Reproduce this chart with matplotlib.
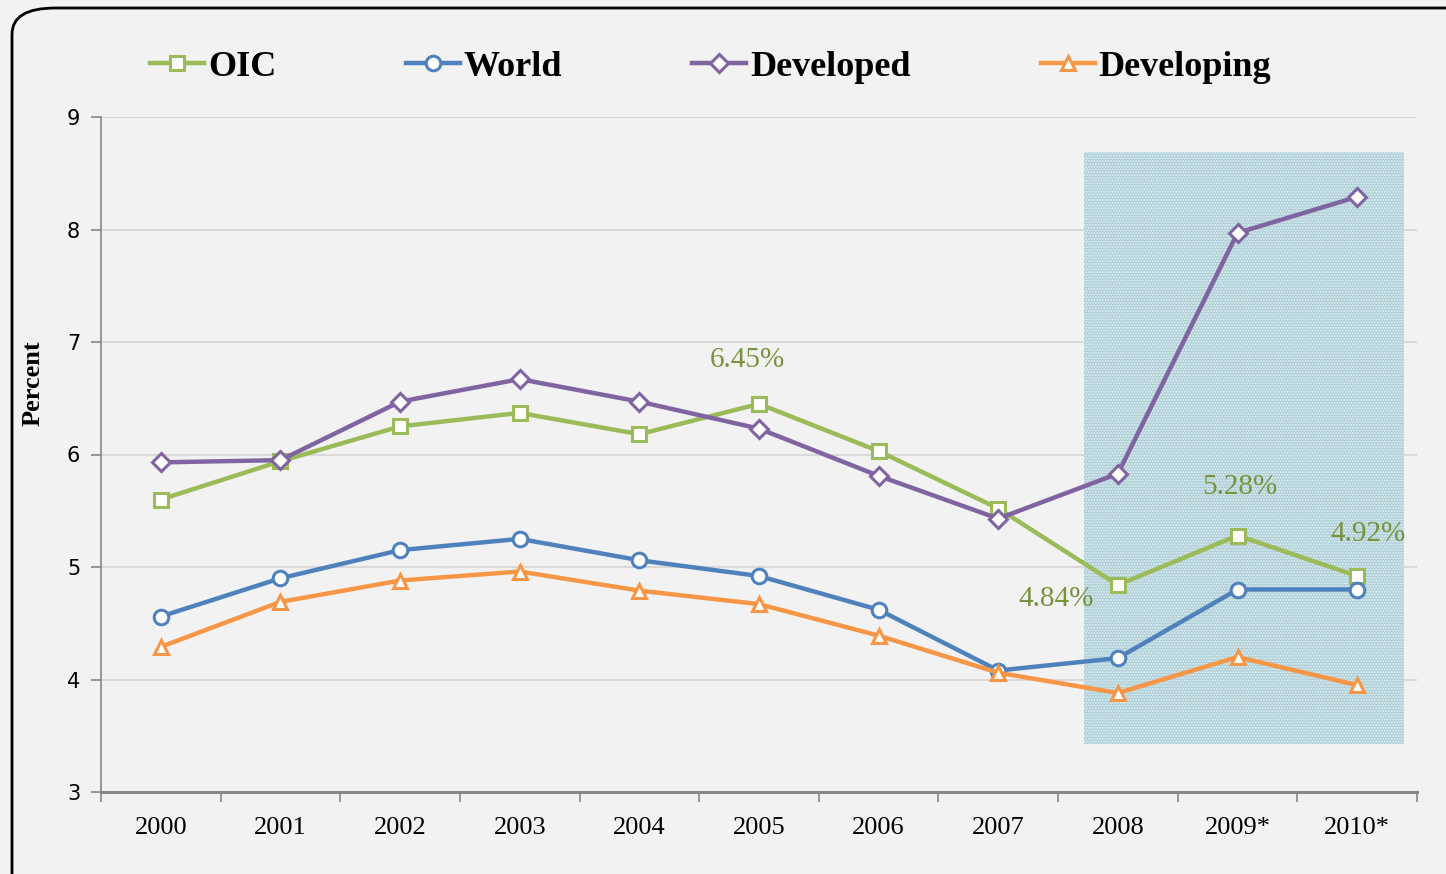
import numpy as np
import matplotlib
matplotlib.use("Agg")
import matplotlib.pyplot as plt
from matplotlib.patches import Rectangle, FancyBboxPatch

years = ["2000", "2001", "2002", "2003", "2004", "2005", "2006", "2007", "2008", "2009*", "2010*"]
oic = [5.60, 5.94, 6.25, 6.37, 6.18, 6.45, 6.03, 5.52, 4.84, 5.28, 4.92]
world = [4.56, 4.90, 5.15, 5.25, 5.06, 4.92, 4.62, 4.08, 4.19, 4.80, 4.80]
developed = [5.93, 5.95, 6.47, 6.67, 6.47, 6.23, 5.81, 5.43, 5.83, 7.97, 8.29]
developing = [4.29, 4.69, 4.88, 4.96, 4.79, 4.67, 4.39, 4.06, 3.88, 4.20, 3.95]

# labelled OIC points: (index, text)
oic_labels = [(5, "6.45%"), (8, "4.84%"), (9, "5.28%"), (10, "4.92%")]

serif = "Liberation Serif"
bg = "#f2f2f2"
plt.rcParams["hatch.linewidth"] = 0.9

fig = plt.figure(figsize=(14.46, 8.74), dpi=100, facecolor=bg)
border = FancyBboxPatch((12 / 1446, -0.05), 1.05, 1.05 - 8 / 874,
                        boxstyle="round,pad=0,rounding_size=0.03",
                        transform=fig.transFigure, facecolor=bg,
                        edgecolor="black", linewidth=2, zorder=-10)
fig.patches.append(border)

ax = fig.add_axes([101 / 1446, 1 - 792 / 874, 1316 / 1446, 675 / 874])
ax.set_facecolor("none")

x = np.arange(len(years))

# shaded forecast box (dotted texture)
ax.add_patch(Rectangle((7.72, 3.43), 2.67, 5.26, facecolor="#add0d8",
                       edgecolor="#e8f0f2", linewidth=0, hatch="......", zorder=1))

series = [
    ("OIC", oic, "#9bbb59", "s"),
    ("World", world, "#4f81bd", "o"),
    ("Developed", developed, "#8064a2", "D"),
    ("Developing", developing, "#f79646", "^"),
]
for name, vals, col, mk in series:
    ms = 10.5 if mk != "D" else 9
    ax.plot(x, vals, color=col, lw=3.2, marker=mk, ms=ms, mfc="white",
            mec=col, mew=2.2, label=name, zorder=3)

offs = {5: (-0.1, 0.39), 8: (-0.515, -0.12), 9: (0.02, 0.43), 10: (0.09, 0.37)}
for i, txt in oic_labels:
    ax.text(i + offs[i][0], oic[i] + offs[i][1], txt, color="#77933c",
            fontsize=21, family=serif, ha="center", va="center", zorder=4)

ax.set_xlim(-0.5, 10.5)
ax.set_ylim(3, 9)
ax.set_yticks(range(3, 10))
ax.yaxis.grid(True, color="#d9d9d9", lw=1.5)
ax.set_axisbelow(True)
ax.set_xticks(x)
ax.set_xticklabels(years, family=serif, fontsize=19)
ax.set_xticks(np.arange(-0.5, 11, 1), minor=True)
ax.tick_params(axis="x", which="major", length=0, pad=18)
ax.tick_params(axis="x", which="minor", length=7, color="#868686", width=1.2)
ax.tick_params(axis="y", length=7, color="#868686", width=1.2, labelsize=15, pad=8)
for s in ["top", "right"]:
    ax.spines[s].set_visible(False)
ax.spines["left"].set_color("#868686")
ax.spines["left"].set_linewidth(1.2)
ax.spines["bottom"].set_color("#868686")
ax.spines["bottom"].set_linewidth(2.2)

ax.set_ylabel("Percent", family=serif, fontsize=19, fontweight="bold",
              va="center", ha="center")
ax.yaxis.set_label_coords(-0.052, 0.606)

fig.legend(loc="center left", bbox_to_anchor=(150 / 1446, 1 - 67 / 874), ncol=4,
           frameon=False, prop={"family": serif, "size": 26, "weight": "bold"},
           borderpad=0, borderaxespad=0, handlelength=1.5, handletextpad=0.1,
           columnspacing=3.6)

fig.savefig("out.png", dpi=100, facecolor=bg)
